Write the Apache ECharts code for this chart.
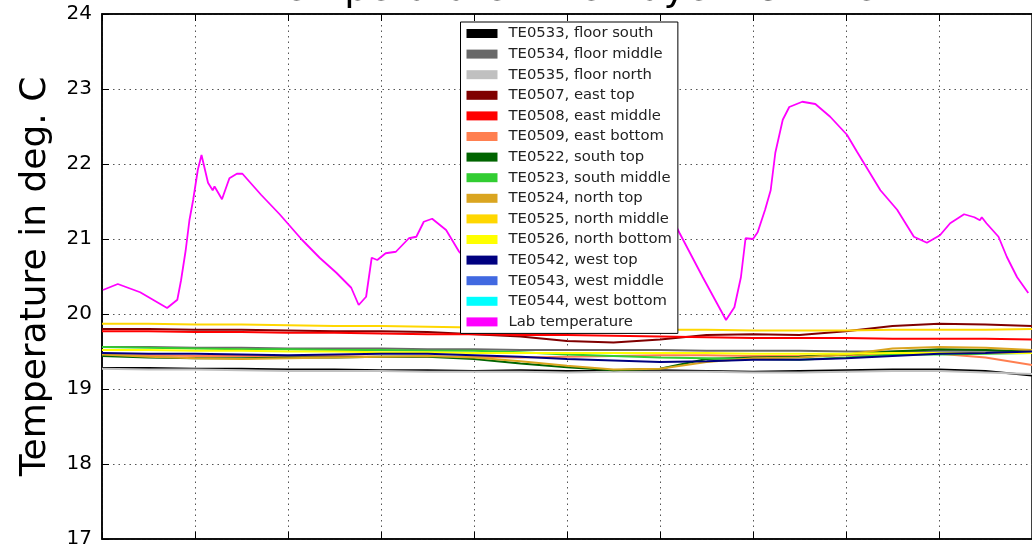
<!DOCTYPE html>
<html>
<head>
<meta charset="utf-8">
<script src="https://cdn.jsdelivr.net/npm/echarts@6.0.0/dist/echarts.min.js"></script>
<style>
html,body{margin:0;padding:0;background:#fff;}
#chart{width:1032px;height:549px;}
</style>
</head>
<body>
<div id="chart"></div>
<script>
// ---- data (time in grid units, temperature in deg. C) ----
const sensorTime = [0,0.5,1,1.5,2,2.5,3,3.5,4,4.5,5,5.5,6,6.5,7,7.5,8,8.5,9,9.5,10];

const TE0533 = [19.28,19.28,19.27,19.27,19.26,19.26,19.25,19.25,19.24,19.25,19.24,19.24,19.25,19.24,19.23,19.24,19.25,19.26,19.26,19.24,19.18];
const TE0534 = [19.56,19.56,19.55,19.55,19.54,19.54,19.54,19.53,19.53,19.52,19.52,19.52,19.52,19.51,19.51,19.51,19.50,19.50,19.51,19.51,19.50];
const TE0535 = [19.27,19.26,19.26,19.25,19.24,19.24,19.24,19.23,19.23,19.23,19.22,19.23,19.23,19.23,19.22,19.22,19.23,19.24,19.24,19.22,19.20];
const TE0507 = [19.80,19.80,19.79,19.79,19.78,19.77,19.77,19.76,19.73,19.70,19.64,19.62,19.66,19.72,19.73,19.72,19.77,19.84,19.87,19.86,19.84];
const TE0508 = [19.77,19.77,19.76,19.76,19.75,19.75,19.74,19.73,19.73,19.72,19.72,19.71,19.70,19.69,19.68,19.68,19.68,19.67,19.67,19.67,19.66];
const TE0509 = [19.45,19.45,19.44,19.44,19.44,19.44,19.43,19.43,19.43,19.42,19.43,19.44,19.45,19.45,19.44,19.44,19.45,19.46,19.47,19.42,19.32];
const TE0522 = [19.44,19.42,19.41,19.41,19.42,19.42,19.43,19.43,19.40,19.34,19.29,19.25,19.27,19.40,19.42,19.43,19.46,19.50,19.53,19.52,19.50];
const TE0523 = [19.56,19.55,19.54,19.53,19.53,19.52,19.52,19.51,19.51,19.49,19.46,19.44,19.42,19.41,19.40,19.39,19.42,19.46,19.46,19.47,19.48];
const TE0524 = [19.46,19.43,19.41,19.40,19.41,19.42,19.43,19.44,19.42,19.37,19.31,19.26,19.27,19.36,19.41,19.42,19.46,19.54,19.56,19.55,19.52];
const TE0525 = [19.87,19.87,19.86,19.86,19.85,19.84,19.84,19.83,19.82,19.81,19.80,19.80,19.79,19.79,19.78,19.78,19.78,19.79,19.79,19.79,19.80];
const TE0526 = [19.52,19.52,19.51,19.51,19.50,19.50,19.49,19.49,19.48,19.48,19.48,19.48,19.48,19.48,19.47,19.47,19.47,19.48,19.48,19.48,19.48];
const TE0542 = [19.48,19.47,19.47,19.46,19.45,19.46,19.47,19.47,19.45,19.43,19.40,19.38,19.36,19.37,19.39,19.39,19.41,19.44,19.47,19.48,19.50];
const TE0543 = []; // not visible in the plotted range
const TE0544 = []; // not visible in the plotted range

const labTime = [0.01,0.17,0.41,0.70,0.81,0.85,0.90,0.94,0.98,1.03,1.07,1.09,1.14,1.19,1.21,1.29,1.37,1.45,1.51,1.71,1.91,2.15,2.34,2.52,2.68,2.76,2.84,2.90,2.96,3.05,3.16,3.30,3.38,3.46,3.55,3.70,3.84,4.16,4.48,4.91,5.34,5.76,6.03,6.21,6.46,6.71,6.80,6.87,6.92,7.00,7.05,7.13,7.19,7.24,7.32,7.39,7.53,7.67,7.83,8.01,8.12,8.37,8.55,8.73,8.87,9.01,9.12,9.27,9.38,9.44,9.46,9.51,9.64,9.73,9.84,9.96];
const labTemp = [20.32,20.40,20.29,20.08,20.19,20.45,20.85,21.25,21.52,21.92,22.12,22.10,21.75,21.65,21.70,21.53,21.81,21.87,21.87,21.59,21.33,20.99,20.75,20.55,20.35,20.12,20.23,20.75,20.72,20.81,20.83,21.01,21.03,21.23,21.27,21.12,20.83,20.39,20.19,20.59,21.05,21.45,21.52,21.08,20.49,19.92,20.09,20.49,21.01,21.00,21.09,21.39,21.65,22.15,22.59,22.76,22.83,22.80,22.63,22.39,22.16,21.65,21.39,21.03,20.95,21.05,21.21,21.33,21.29,21.25,21.29,21.21,21.03,20.76,20.49,20.28];

const yTicks = [17,18,19,20,21,22,23,24];

const seriesDefs = [
  ['TE0533, floor south', TE0533, '#000000'],
  ['TE0534, floor middle', TE0534, '#696969'],
  ['TE0535, floor north', TE0535, '#c0c0c0'],
  ['TE0507, east top', TE0507, '#800000'],
  ['TE0508, east middle', TE0508, '#ff0000'],
  ['TE0509, east bottom', TE0509, '#ff7f50'],
  ['TE0522, south top', TE0522, '#006400'],
  ['TE0523, south middle', TE0523, '#32cd32'],
  ['TE0524, north top', TE0524, '#daa520'],
  ['TE0525, north middle', TE0525, '#ffd700'],
  ['TE0526, north bottom', TE0526, '#ffff00'],
  ['TE0542, west top', TE0542, '#000080'],
  ['TE0543, west middle', TE0543, '#4169e1'],
  ['TE0544, west bottom', TE0544, '#00ffff']
];

const FONT = 'DejaVu Sans';
const series = seriesDefs.map(([name, vals, color]) => ({
  name, type: 'line', showSymbol: false, symbol: 'none',
  data: vals.map((v, i) => [sensorTime[i], v]),
  itemStyle: {color}, lineStyle: {color, width: 2},
  emphasis: {disabled: true}
}));
series.push({
  name: 'Lab temperature', type: 'line', showSymbol: false, symbol: 'none',
  data: labTime.map((t, i) => [t, labTemp[i]]),
  itemStyle: {color: '#ff00ff'}, lineStyle: {color: '#ff00ff', width: 1.8},
  emphasis: {disabled: true}
});

const chart = echarts.init(document.getElementById('chart'), null, {renderer: 'canvas'});
const xCommon = {
  type: 'value', min: 0, max: 10, interval: 1,
  axisLabel: {show: false},
  axisLine: {lineStyle: {color: '#000', width: 1.5}},
  axisTick: {inside: true, length: 7, lineStyle: {color: '#000', width: 1}}
};
chart.setOption({
  animation: false,
  backgroundColor: '#fff',
  textStyle: {fontFamily: FONT},
  title: {
    text: 'Temperature inner layer vs time',
    left: 262, top: -34,
    textStyle: {fontFamily: FONT, fontSize: 38, fontWeight: 'normal', color: '#000'}
  },
  grid: {left: 102, top: 14, right: -3, bottom: 10, show: true, borderColor: '#000', borderWidth: 1.5, backgroundColor: 'transparent'},
  legend: {
    orient: 'vertical', left: 460.5, top: 22,
    icon: 'rect', itemWidth: 31, itemHeight: 9, itemGap: 5.6,
    padding: [4, 6, 4, 6],
    backgroundColor: '#fff', borderColor: '#000', borderWidth: 1, borderRadius: 0,
    textStyle: {fontFamily: FONT, fontSize: 14.8, color: '#222', lineHeight: 14, padding: [0, 0, 0, 6]},
    data: series.map(s => s.name)
  },
  xAxis: [
    Object.assign({}, xCommon, {
      position: 'bottom',
      splitLine: {show: true, lineStyle: {color: '#555', width: 1, type: [1.5, 4]}}
    }),
    Object.assign({}, xCommon, {position: 'top', splitLine: {show: false}})
  ],
  yAxis: {
    type: 'value', min: yTicks[0], max: yTicks[yTicks.length - 1], interval: 1,
    name: 'Temperature in deg. C', nameLocation: 'middle', nameGap: 48,
    nameTextStyle: {fontFamily: FONT, fontSize: 36, color: '#000'},
    axisLabel: {fontFamily: FONT, fontSize: 20, color: '#000', margin: 10,
      formatter: v => yTicks.includes(v) ? String(v) : ''},
    axisLine: {show: true, lineStyle: {color: '#000', width: 1.5}},
    axisTick: {show: true, inside: true, length: 7, lineStyle: {color: '#000', width: 1}},
    splitLine: {show: true, lineStyle: {color: '#555', width: 1, type: [1.5, 4]}}
  },
  series
});
</script>
</body>
</html>
